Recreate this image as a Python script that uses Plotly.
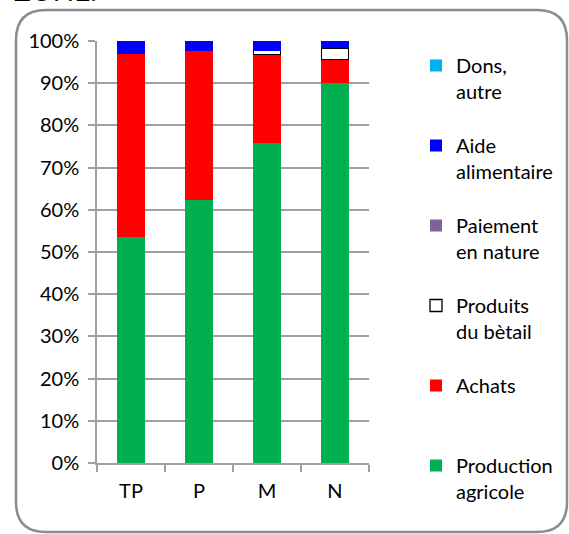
import plotly.graph_objects as go

categories = ["TP", "P", "M", "N"]
production_agricole = [53.5, 62.3, 75.8, 90.0]
achats = [43.4, 35.4, 21.0, 5.7]
produits_betail = [None, None, 0.9, 2.6]
paiement_nature = [0, 0, 0, 0]
aide_alimentaire = [3.1, 2.3, 2.3, 1.7]
dons_autre = [0, 0, 0, 0]

FONT = "Lato"
GRID = "#A0A0A0"

fig = go.Figure()

def add(name, vals, color, rank, line_color=None, line_width=0):
    fig.add_trace(go.Bar(
        x=categories, y=vals, name=name, legendgroup=name, legendrank=rank,
        marker=dict(color=color, line=dict(color=line_color or color, width=line_width)),
        width=0.4,
    ))

add("Production<br>agricole", production_agricole, "#00B050", 6)
add("Achats<br> ", achats, "#FF0000", 5)
add("Produits<br>du bètail", produits_betail, "#FFFFFF", 4, "#000000", 1.3)
add("Paiement<br>en nature", paiement_nature, "#7F6299", 3)
add("Aide<br>alimentaire", aide_alimentaire, "#0000FF", 2)
add("Dons,<br>autre", dons_autre, "#00B0F0", 1)

# page geometry (px)
W, H = 569, 534
L, R, T, B = 97, 369, 41, 463
pw, ph = R - L, B - T

def px(x):
    return (x - L) / pw

def py(y):
    return (B - y) / ph

x0, x1 = px(16), px(567)
yt, yb = py(10), py(532)
rx, ry = 30 / pw, 30 / ph
frame = (f"M {x0+rx},{yt} L {x1-rx},{yt} Q {x1},{yt} {x1},{yt-ry} "
         f"L {x1},{yb+ry} Q {x1},{yb} {x1-rx},{yb} L {x0+rx},{yb} "
         f"Q {x0},{yb} {x0},{yb+ry} L {x0},{yt-ry} Q {x0},{yt} {x0+rx},{yt} Z")

fig.update_layout(
    width=W, height=H,
    margin=dict(l=L, r=W - R, t=T, b=H - B),
    barmode="stack",
    paper_bgcolor="white", plot_bgcolor="white",
    font=dict(family=FONT, size=20, color="#000000"),
    showlegend=True,
    legend=dict(
        x=416 / W, xref="container", xanchor="left",
        y=1 - 46 / H, yref="container", yanchor="top",
        traceorder="grouped", tracegroupgap=25, valign="top",
        font=dict(family=FONT, size=20, color="#000000"),
        bgcolor="rgba(0,0,0,0)", maxheight=520,
    ),
    shapes=[dict(type="path", xref="paper", yref="paper", path=frame,
                 line=dict(color="#8C8C8C", width=2.5), layer="below")],
    annotations=[dict(text="ZONE.", xref="paper", yref="paper", x=px(12), y=py(8.5),
                      xanchor="left", yanchor="bottom", showarrow=False,
                      font=dict(family=FONT, size=28, color="#000000"))],
)

fig.update_yaxes(
    range=[0, 100], dtick=10, ticksuffix="%",
    showgrid=True, gridcolor=GRID, gridwidth=1.5,
    showline=True, linecolor=GRID, linewidth=1.5,
    ticks="outside", ticklen=7, tickcolor=GRID, tickwidth=1.5,
    zeroline=False, tickfont=dict(size=20), ticklabelstandoff=5,
)
fig.update_xaxes(
    showline=True, linecolor=GRID, linewidth=1.5,
    ticks="outside", ticklen=7, tickcolor=GRID, tickwidth=1.5,
    tickson="boundaries", tickfont=dict(size=20), ticklabelstandoff=9,
)

fig.write_html("out.html", config={"displayModeBar": False},
               post_script="document.body.style.margin='0px';")
